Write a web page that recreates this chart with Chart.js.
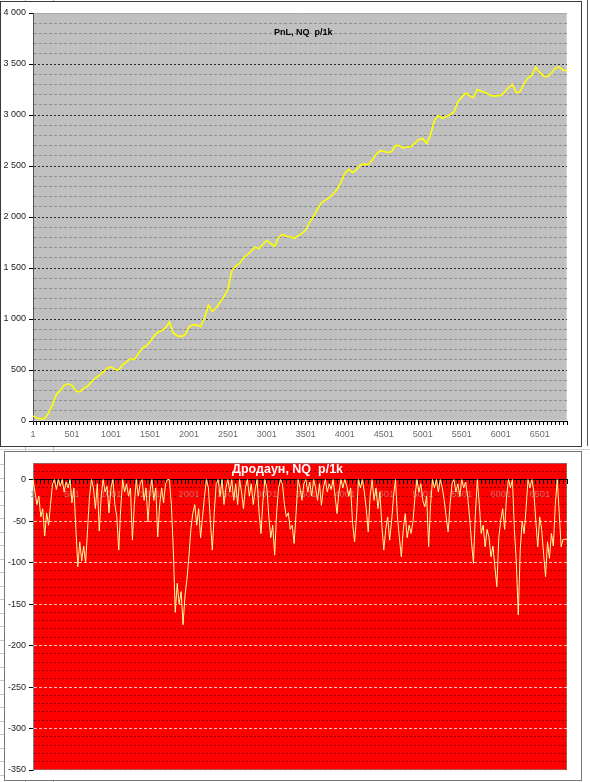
<!DOCTYPE html>
<html>
<head>
<meta charset="utf-8">
<title>PnL, NQ p/1k</title>
<script src="https://cdn.jsdelivr.net/npm/chart.js"></script>
<style>
  body { margin: 0; width: 590px; height: 782px; position: relative; overflow: hidden; background: #fff; font-family: "Liberation Sans", Arial, sans-serif; }
  .abs { position: absolute; }
  .frame { position: absolute; box-sizing: border-box; pointer-events: none; }
  #pnlTitle { left: 274px; top: 26px; font-size: 9px; font-weight: bold; color: #000; white-space: pre; line-height: 12px; }
  #ddTitle { left: 232px; top: 462px; font-size: 12.5px; font-weight: bold; color: #fff; white-space: pre; line-height: 15px; }
</style>
</head>
<body>
  <!-- bits of the spreadsheet behind the charts -->
  <div class="abs" style="left:25px;top:0;width:1px;height:2px;background:#bbb"></div>
  <div class="abs" style="left:53px;top:0;width:1px;height:2px;background:#bbb"></div>
  <div class="abs" style="left:25px;top:447px;width:1px;height:4px;background:#bbb"></div>
  <div class="abs" style="left:53px;top:447px;width:1px;height:4px;background:#bbb"></div>
  <div class="abs" style="left:25px;top:781px;width:1px;height:1px;background:#bbb"></div>
  <div class="abs" style="left:53px;top:781px;width:1px;height:1px;background:#bbb"></div>
  <div class="abs" style="left:0;top:449px;width:590px;height:1px;background:#d4d4d4"></div>
  <div class="abs" style="left:0;top:452px;width:4px;height:330px;background:repeating-linear-gradient(to bottom, transparent 0, transparent 12.5px, #c8c8c8 12.5px, #c8c8c8 13.5px)"></div>

  <canvas id="pnlChart" class="abs" width="582" height="446" style="left:0;top:0"></canvas>
  <div class="frame" style="left:0;top:1px;width:582px;height:446px;border:1px solid #3a3a3a"></div>
  <div class="abs" style="left:587px;top:0;width:1px;height:446px;background:#555"></div>
  <div id="pnlTitle" class="abs">PnL, NQ  p/1k</div>

  <canvas id="ddChart" class="abs" width="582" height="331" style="left:0;top:451px"></canvas>
  <div class="frame" style="left:4px;top:451px;width:578px;height:330px;border:1px solid #777"></div>
  <div id="ddTitle" class="abs">Дродаун, NQ  p/1k</div>

<script>
// PnL curve, every 50 trades (trade 1, 51, 101 ...)
const pnlValues = [
  50, 30, 20, 25, 80, 160, 260, 300, 350, 365,
  350, 295, 285, 320, 340, 385, 420, 448, 480, 516,
  530, 505, 500, 552, 580, 612, 600, 660, 712, 735,
  775, 830, 870, 885, 912, 970, 860, 836, 828, 845,
  920, 945, 940, 924, 1010, 1135, 1075, 1110, 1165, 1220,
  1290, 1470, 1520, 1545, 1600, 1630, 1665, 1705, 1688, 1735,
  1772, 1740, 1712, 1800, 1830, 1812, 1806, 1790, 1815, 1839,
  1875, 1950, 2010, 2080, 2140, 2165, 2190, 2225, 2270, 2340,
  2430, 2468, 2435, 2465, 2510, 2518, 2515, 2556, 2612, 2650,
  2645, 2632, 2640, 2700, 2700, 2675, 2689, 2689, 2725, 2760,
  2768, 2720, 2805, 2950, 2995, 2965, 2985, 3000, 3030, 3130,
  3175, 3215, 3190, 3170, 3250, 3232, 3220, 3200, 3185, 3190,
  3190, 3224, 3270, 3300, 3220, 3230, 3310, 3365, 3390, 3470,
  3420, 3380, 3375, 3410, 3460, 3470, 3438, 3435
];

// Drawdown, every 25 trades (trade 1, 26, 51 ...)
const ddValues = [
  0, -15, -30, -20, -45, -35, -68, -40, -55, -30,
  -5, 0, -12, 0, -8, 0, -15, -3, -10, 0,
  -28, -10, -60, -105, -75, -98, -80, -100, -60, -20,
  0, -10, -35, -5, -62, -20, 0, -15, -8, -40,
  -10, 0, -30, -45, -85, -35, 0, -15, -5, -20,
  -10, -73, -30, 0, -20, -5, 0, -25, -10, -51,
  -15, 0, -25, -10, -69, -30, -10, -28, -5, 0,
  0, -30, -85, -160, -125, -150, -135, -175, -140, -120,
  -93, -60, -41, -30, -55, -35, -70, -45, -20, 0,
  -10, -50, -85, -40, -5, 0, -20, 0, -30, -10,
  0, -15, 0, -25, -5, -30, 0, -15, -35, -10,
  0, -20, -5, -30, -12, 0, -40, -65, -25, 0,
  -10, -45, -70, -55, -91, -40, -10, 0, -5, -30,
  -45, -40, -60, -55, -77, -40, 0, -10, -25, -5,
  0, -15, -3, -20, 0, -10, -25, -5, -31, -10,
  0, -15, -5, -12, 0, -20, -41, -15, 0, -10,
  0, -8, -20, -10, -53, -75, -45, 0, -10, 0,
  -15, -35, -63, -20, 0, -25, -10, -35, -15, -55,
  -85, -60, -45, -73, -50, -20, 0, -45, -70, -93,
  -60, -41, -70, -55, -65, -50, -20, 0, -15, -5,
  -25, -33, -20, -81, -30, 0, -10, 0, -15, 0,
  -10, -25, -45, -63, -30, -5, 0, -15, -5, -20,
  0, -10, -3, -20, -45, -75, -101, -40, 0, -30,
  -65, -55, -81, -60, -70, -93, -80, -105, -129, -70,
  -49, -35, -60, -20, 0, -10, 0, -60, -100, -163,
  -85, -50, -65, -35, 0, -10, 0, -15, -50, -81,
  -45, -60, -90, -117, -75, -95, -65, -80, -30, 0,
  -40, -81, -72, -72, -72
];

// trade numbers shown under the x axis
const xTickLabels = ['1', '501', '1001', '1501', '2001', '2501', '3001', '3501', '4001', '4501', '5001', '5501', '6001', '6501'];

// category labels = trade number of each reading
const pnlTrades = pnlValues.map((v, i) => String(1 + 50 * i));
const ddTrades = ddValues.map((v, i) => String(1 + 25 * i));

const FONT = '"Liberation Sans", Arial, sans-serif';

// fills the plot area like Excel does
const plotBackground = {
  id: 'plotBackground',
  beforeDraw(chart, args, opts) {
    const a = chart.chartArea;
    const ctx = chart.ctx;
    ctx.save();
    ctx.fillStyle = opts.color;
    ctx.fillRect(a.left, a.top, a.right - a.left, a.bottom - a.top);
    if (opts.edge) {
      ctx.strokeStyle = opts.edge;
      ctx.lineWidth = 1;
      ctx.strokeRect(a.left + 0.5, a.top + 0.5, a.right - a.left - 1, a.bottom - a.top - 1);
    }
    ctx.restore();
  }
};

function thousands(v) {
  if (Math.abs(v) < 1000) return String(v);
  return Math.floor(v / 1000) + ' ' + String(v % 1000).padStart(3, '0');
}

// top chart: PnL
new Chart(document.getElementById('pnlChart'), {
  type: 'line',
  data: {
    labels: pnlTrades,
    datasets: [{
      data: pnlValues,
      borderColor: '#ffff00',
      borderWidth: 1.6,
      pointRadius: 0,
      tension: 0
    }]
  },
  plugins: [plotBackground],
  options: {
    responsive: false,
    animation: false,
    devicePixelRatio: 1,
    layout: { padding: { left: 0, top: 13, right: 15, bottom: 0 } },
    plugins: {
      legend: { display: false },
      tooltip: { enabled: false },
      plotBackground: { color: '#c0c0c0', edge: '#d6d6d6' }
    },
    scales: {
      x: {
        offset: false,
        afterFit: function (scale) { scale.height = 25; },
        grid: { drawOnChartArea: false, drawTicks: true, tickLength: 4, tickColor: '#000' },
        border: { color: '#000', width: 1 },
        ticks: {
          autoSkip: false, maxRotation: 0, minRotation: 0, padding: 4,
          color: '#6a6a6a', font: { family: FONT, size: 9 },
          callback: function (value) {
            const lab = this.getLabelForValue(value);
            return xTickLabels.includes(lab) ? lab : '';
          }
        }
      },
      y: {
        min: 0,
        max: 4000,
        afterFit: function (scale) { scale.width = 33; },
        grid: {
          color: (c) => c.tick.value === 4000 ? '#a8a8a8' : (c.tick.value % 500 === 0 ? '#2a2a2a' : '#8e8e8e'),
          tickLength: 4,
          tickColor: (c) => c.tick && c.tick.value % 500 === 0 ? '#000' : 'rgba(0,0,0,0)'
        },
        border: {
          color: '#555',
          width: 1,
          dash: (c) => !c.tick || c.tick.value === 4000 ? [] : (c.tick.value % 500 === 0 ? [2, 2] : [3, 2])
        },
        ticks: {
          stepSize: 100, autoSkip: false, padding: 3,
          color: '#222', font: { family: FONT, size: 9 },
          callback: (v) => v % 500 === 0 ? thousands(v) : ''
        }
      }
    }
  }
});

// bottom chart: drawdown
new Chart(document.getElementById('ddChart'), {
  type: 'line',
  data: {
    labels: ddTrades,
    datasets: [{
      data: ddValues,
      borderColor: '#ffff99',
      borderWidth: 1,
      pointRadius: 0,
      tension: 0
    }]
  },
  plugins: [plotBackground],
  options: {
    responsive: false,
    animation: false,
    devicePixelRatio: 1,
    layout: { padding: { left: 0, top: 12, right: 15, bottom: 12 } },
    plugins: {
      legend: { display: false },
      tooltip: { enabled: false },
      plotBackground: { color: '#ff0000', edge: 'rgba(150,110,110,0.8)' }
    },
    scales: {
      x: {
        position: { y: 0 },
        offset: false,
        grid: {
          drawOnChartArea: false, drawTicks: true, tickLength: 4,
          tickColor: (c) => c.index % 2 === 0 ? '#000' : 'rgba(0,0,0,0)'
        },
        border: { color: '#000', width: 1 },
        ticks: {
          autoSkip: false, maxRotation: 0, minRotation: 0, padding: 5,
          color: '#cc6a6a', font: { family: FONT, size: 9.5 },
          callback: function (value) {
            const lab = this.getLabelForValue(value);
            return xTickLabels.includes(lab) ? lab : '';
          }
        }
      },
      y: {
        min: -350,
        max: 20,
        afterFit: function (scale) { scale.width = 33; },
        grid: {
          color: (c) => c.tick.value === 20 ? 'rgba(0,0,0,0)' : (c.tick.value % 50 === 0 ? 'rgba(255,225,225,0.85)' : 'rgba(70,0,0,0.6)'),
          tickLength: 4,
          tickColor: (c) => c.tick && c.tick.value % 50 === 0 ? '#000' : 'rgba(0,0,0,0)'
        },
        border: {
          color: '#808080',
          width: 1,
          dash: (c) => !c.tick ? [] : (c.tick.value % 50 === 0 ? [3, 2] : [2, 2])
        },
        ticks: {
          stepSize: 10, autoSkip: false, padding: 3,
          color: '#222', font: { family: FONT, size: 9 },
          callback: (v) => v % 50 === 0 ? String(v) : ''
        }
      }
    }
  }
});
</script>
</body>
</html>
